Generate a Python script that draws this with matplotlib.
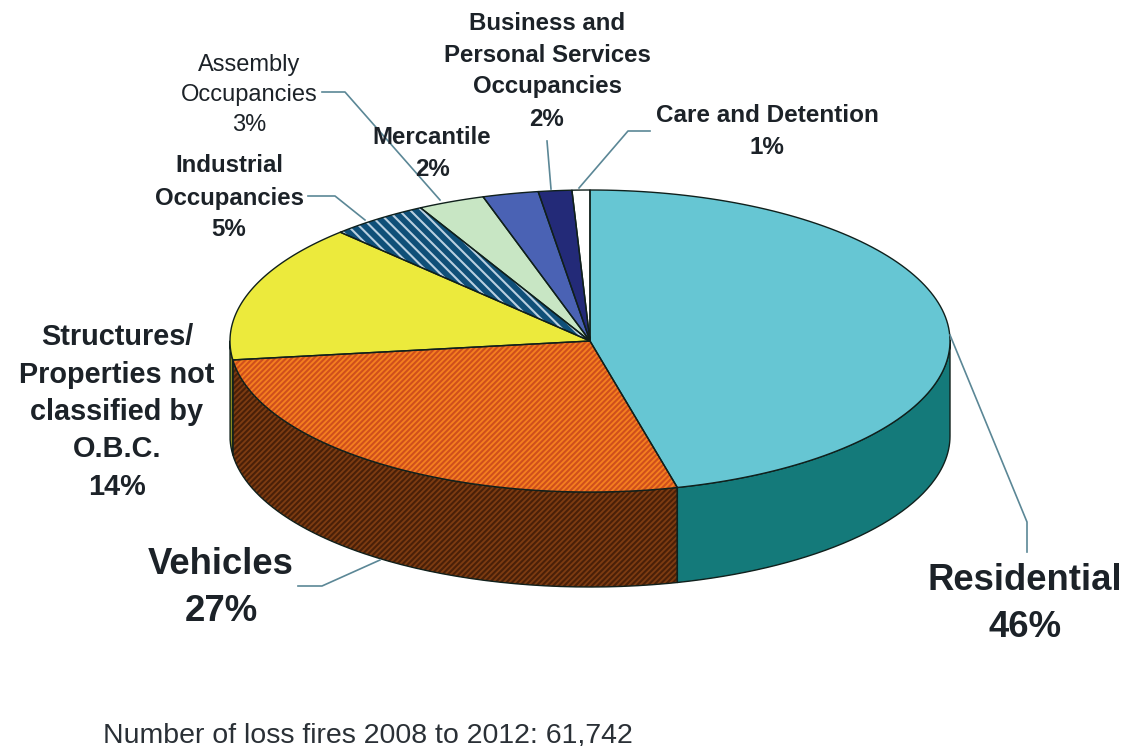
import numpy as np
import matplotlib
matplotlib.use("Agg")
import matplotlib.pyplot as plt

plt.rcParams["font.family"] = ["Liberation Sans", "DejaVu Sans"]
plt.rcParams["hatch.linewidth"] = 1.5

# clockwise from 12 o'clock; shares
names = ["Residential", "Vehicles", "Structures", "Industrial", "Assembly",
         "Mercantile", "Business", "Care"]
shares = [46.1, 26.9, 14.8, 4.4, 3.0, 2.5, 1.5, 0.8]
top_colors = ["#66c6d3", "#f57f20", "#ecea3c", "#0f4f78", "#c8e6c4",
              "#4a62b4", "#232a78", "#ffffff"]
side_colors = ["#147a7a", "#7d3c12", "#8a8a20", "#0f4f78", "#c8e6c4",
               "#4a62b4", "#232a78", "#ffffff"]
top_hatch = [None, "//////", None, "\\\\\\", None, None, None, None]
top_hatch_colors = [None, "#cf4f1c", None, "#b9cfe0", None, None, None, None]
side_hatch = [None, "//////", None, None, None, None, None, None]
side_hatch_colors = [None, "#4a2008", None, None, None, None, None, None]

# label text, x, y, size, bold, line spacing
labels = [
    ("Residential\n46%", 1025, 604, 26.3, True, 1.45),
    ("Vehicles\n27%", 221, 588, 26.3, True, 1.45),
    ("Structures/\nProperties not\nclassified by\nO.B.C.\n14%", 117, 412, 20.8, True, 1.43),
    ("Industrial\nOccupancies\n5%", 229, 198, 17.3, True, 1.5),
    ("Assembly\nOccupancies\n3%", 249, 95, 17, False, 1.45),
    ("Mercantile\n2%", 432, 153, 17.3, True, 1.5),
    ("Business and\nPersonal Services\nOccupancies\n2%", 547, 71, 17.3, True, 1.5),
    ("Care and Detention\n1%", 767, 132, 17.5, True, 1.5),
]
footer = "Number of loss fires 2008 to 2012: 61,742"

leaders = [
    ([950, 1027, 1027], [335, 522, 552]),
    ([380, 322, 298], [560, 586, 586]),
    ([308, 335, 365], [196, 196, 220]),
    ([322, 345, 440], [92, 92, 200]),
    ([547, 551], [141, 189]),
    ([650, 628, 579], [131, 131, 188]),
]

cx, cy, rx, ry, depth = 590, 341, 360, 151, 95


def rim(a0, a1):
    t = np.radians(np.linspace(a0, a1, 120))
    return cx + rx * np.sin(t), cy - ry * np.cos(t)


def draw(ax, x, y, color, hatch, hatch_color, z):
    if hatch:
        ax.fill(x, y, facecolor=color, edgecolor=hatch_color, hatch=hatch, lw=0, zorder=z)
    else:
        ax.fill(x, y, facecolor=color, lw=0, zorder=z)
    ax.plot(np.append(x, x[0]), np.append(y, y[0]), color="#10201c", lw=1.0, zorder=z + 0.5)


fig = plt.figure(figsize=(11.25, 7.46), dpi=100)
ax = fig.add_axes([0, 0, 1, 1])
ax.set_xlim(0, 1125)
ax.set_ylim(746, 0)
ax.axis("off")

edges = np.cumsum([0] + shares) / sum(shares) * 360

# side wall, only the front half of the disc shows it
for i in range(len(names)):
    a0, a1 = max(edges[i], 90), min(edges[i + 1], 270)
    if a0 >= a1:
        continue
    x, y = rim(a0, a1)
    px = np.concatenate([x, x[::-1]])
    py = np.concatenate([y, y[::-1] + depth])
    draw(ax, px, py, side_colors[i], side_hatch[i], side_hatch_colors[i], 2)

for i in range(len(names)):
    x, y = rim(edges[i], edges[i + 1])
    px = np.concatenate([[cx], x])
    py = np.concatenate([[cy], y])
    draw(ax, px, py, top_colors[i], top_hatch[i], top_hatch_colors[i], 3 + i * 0.01)

for lx, ly in leaders:
    ax.plot(lx, ly, color="#5b8796", lw=1.2, zorder=5)

for text, x, y, size, bold, spacing in labels:
    ax.text(x, y, text, ha="center", va="center", fontsize=size, linespacing=spacing,
            fontweight="bold" if bold else "normal", color="#1c2228", zorder=6)

ax.text(103, 735, footer, ha="left", va="center", fontsize=20.5, color="#2a3036")

fig.savefig("out.png", dpi=100)
